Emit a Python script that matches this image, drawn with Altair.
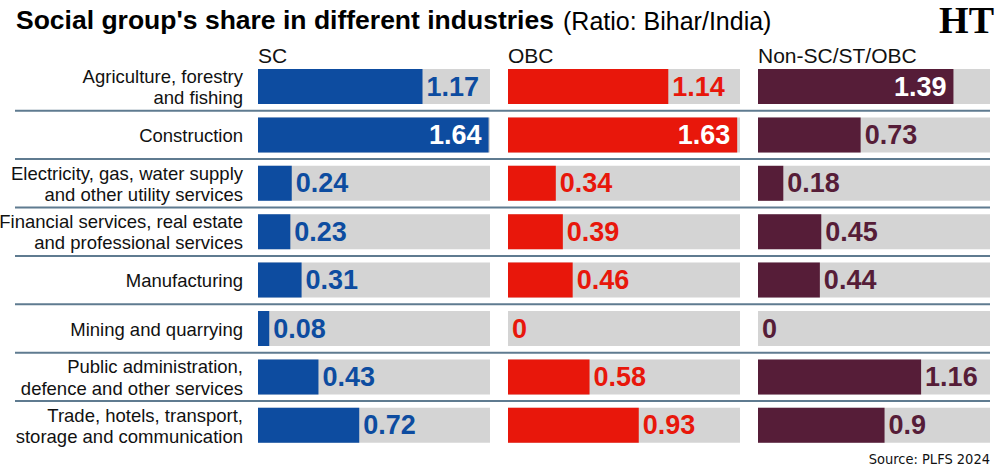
import altair as alt
import pandas as pd

# Industries (row labels, two-line labels split with "\n")
industries = [
    "Agriculture, forestry\nand fishing",
    "Construction",
    "Electricity, gas, water supply\nand other utility services",
    "Financial services, real estate\nand professional services",
    "Manufacturing",
    "Mining and quarrying",
    "Public administration,\ndefence and other services",
    "Trade, hotels, transport,\nstorage and communication",
]

groups = ["SC", "OBC", "Non-SC/ST/OBC"]

# Ratio Bihar/India of each group's share
sc_values = [1.17, 1.64, 0.24, 0.23, 0.31, 0.08, 0.43, 0.72]
obc_values = [1.14, 1.63, 0.34, 0.39, 0.46, 0, 0.58, 0.93]
other_values = [1.39, 0.73, 0.18, 0.45, 0.44, 0, 1.16, 0.9]

group_colors = ["#0d4ca0", "#e8170b", "#561d38"]
axis_max = 1.65
inside_threshold = 1.3

# Pixel range of each group's panel
panel_ranges = [[258, 490], [508, 740], [758, 990]]

GRAY = "#d4d4d4"
RULE = "#5f7b90"
FONT = "Liberation Sans"
NARROW = "Liberation Sans Narrow, Arial Narrow, DejaVu Sans Condensed"
LINE_H = 21.5

rows = pd.DataFrame({
    "industry": industries,
    "order": list(range(len(industries))),
    "lines": [s.count("\n") + 1 for s in industries],
})


def y_enc(**kw):
    return alt.Y(
        "industry:N",
        sort=industries,
        scale=alt.Scale(domain=industries, range=[62.3, 449.5], paddingInner=0, paddingOuter=0),
        axis=None,
        **kw,
    )


# Row labels on the left (two-line labels are lifted by half a line)
def label_layer(n_lines, dy):
    return alt.Chart(rows).transform_filter(f"datum.lines == {n_lines}").mark_text(
        align="right", baseline="middle", font=FONT, fontSize=18.5, lineHeight=LINE_H,
        lineBreak="\n", color="#111111", dy=dy,
    ).encode(x=alt.value(243), y=y_enc(), text="industry:N")


labels = alt.layer(label_layer(1, 1), label_layer(2, 1 - LINE_H / 2))

# Separator lines between rows
separators = alt.Chart(rows).transform_filter("datum.order > 0").mark_rule(
    color=RULE, strokeWidth=2
).encode(x=alt.value(15), x2=alt.value(990), y=y_enc(bandPosition=0))


def panel(name, values, color, rng):
    df = pd.DataFrame({
        "industry": industries,
        "value": values,
        "label": [f"{v:g}" for v in values],
    })
    xscale = alt.Scale(domain=[0, axis_max], range=rng, nice=False, zero=True)
    base = alt.Chart(df)
    bg = base.mark_bar(color=GRAY, height=35).encode(
        x=alt.X(datum=0, type="quantitative", scale=xscale, axis=None),
        x2=alt.X2(datum=axis_max),
        y=y_enc(),
    )
    bars = base.mark_bar(color=color, height=35).encode(
        x=alt.X("value:Q", scale=xscale, axis=None),
        y=y_enc(),
    )
    txt_in = base.transform_filter(f"datum.value > {inside_threshold}").mark_text(
        align="right", baseline="middle", font=FONT, fontWeight="bold",
        fontSize=27, color="white", dx=-7, dy=1,
    ).encode(x=alt.X("value:Q", scale=xscale, axis=None), y=y_enc(), text="label:N")
    txt_out = base.transform_filter(f"datum.value <= {inside_threshold}").mark_text(
        align="left", baseline="middle", font=FONT, fontWeight="bold",
        fontSize=27, color=color, dx=4, dy=1,
    ).encode(x=alt.X("value:Q", scale=xscale, axis=None), y=y_enc(), text="label:N")
    header = alt.Chart(pd.DataFrame({"g": [name]})).mark_text(
        align="left", baseline="alphabetic", font=FONT, fontSize=21, color="#111111",
    ).encode(
        x=alt.X(datum=0, type="quantitative", scale=xscale, axis=None),
        y=alt.value(63),
        text="g:N",
    )
    return alt.layer(bg, bars, txt_in, txt_out, header)


panels = [panel(g, v, c, r) for g, v, c, r in zip(
    groups, [sc_values, obc_values, other_values], group_colors, panel_ranges)]

one = pd.DataFrame({"k": [0]})
title_bold = alt.Chart(one).mark_text(
    align="left", baseline="alphabetic", font=FONT, fontWeight="bold", fontSize=26.5, color="#000000"
).encode(x=alt.value(16), y=alt.value(29), text=alt.value("Social group's share in different industries"))
title_reg = alt.Chart(one).mark_text(
    align="left", baseline="alphabetic", font=FONT, fontSize=25, color="#000000"
).encode(x=alt.value(563), y=alt.value(30), text=alt.value("(Ratio: Bihar/India)"))
logo = alt.Chart(one).mark_text(
    align="right", baseline="alphabetic", font="Liberation Serif", fontWeight="bold",
    fontSize=38, color="#000000"
).encode(x=alt.value(994), y=alt.value(33), text=alt.value("HT"))
source = alt.Chart(one).mark_text(
    align="right", baseline="alphabetic", font=NARROW, fontSize=14.5, color="#111111"
).encode(x=alt.value(990), y=alt.value(464), text=alt.value("Source: PLFS 2024"))

chart = alt.layer(
    separators, labels, *panels, title_bold, title_reg, logo, source
).resolve_scale(x="independent").properties(
    width=1000, height=476, padding=0, autosize=alt.AutoSizeParams(type="none"),
    background="white",
).configure_view(stroke=None)

chart.save("out.html", embed_options={"renderer": "svg", "actions": False})
